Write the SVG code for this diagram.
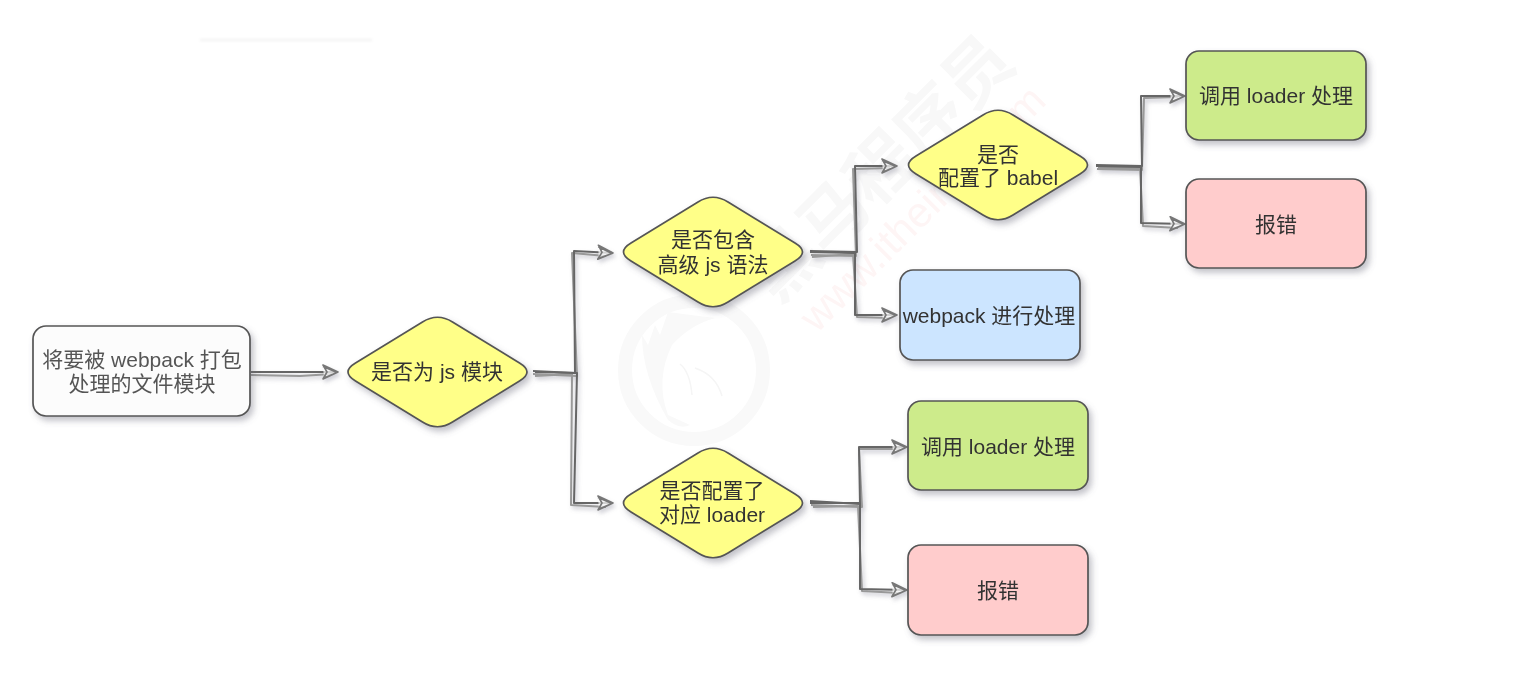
<svg xmlns="http://www.w3.org/2000/svg" width="1527" height="680" viewBox="0 0 1527 680">
<style>
.n{stroke:#555;stroke-width:1.7}
.d{fill:#ffff88}
.t{font-family:"Liberation Sans","Noto Sans CJK SC",sans-serif;font-size:21px;fill:#333;text-anchor:middle}
.a{fill:none;stroke:#666;stroke-width:2;stroke-linejoin:round;marker-end:url(#ah)}
.b{fill:none;stroke:#999;stroke-width:2;stroke-linejoin:round}
</style>
<defs>
<filter id="s" x="-20%" y="-20%" width="150%" height="150%"><feDropShadow dx="3" dy="4" stdDeviation="3" flood-color="#667" flood-opacity=".4"/></filter>
<filter id="ls" filterUnits="userSpaceOnUse" x="0" y="0" width="1527" height="680"><feDropShadow dx="2" dy="3" stdDeviation="2" flood-color="#778" flood-opacity=".35"/></filter>
<filter id="soft" filterUnits="userSpaceOnUse" x="0" y="0" width="1527" height="680"><feGaussianBlur stdDeviation=".45"/></filter>
<filter id="far" filterUnits="userSpaceOnUse" x="150" y="20" width="280" height="40"><feGaussianBlur stdDeviation="1.500"/></filter>
<marker id="ah" markerUnits="userSpaceOnUse" markerWidth="20" markerHeight="18" refX="16" refY="8" orient="auto"><path d="M1 1 L16 8 L1 15 L5 8 Z M1 2.500 L15 8.600 L2 14" fill="#fff" fill-opacity=".7" stroke="#777" stroke-width="1.6" stroke-linejoin="round"/></marker>
<path id="dia" d="M-82 -9 L-15 -50 Q0 -59.500 15 -50 L82 -9 Q97 0 82 9 L15 50 Q0 59.500 -15 50 L-82 9 Q-97 0 -82 -9 Z"/>
</defs>
<rect width="1527" height="680" fill="#fff"/>
<g filter="url(#soft)">
<line x1="200" y1="40" x2="372" y2="40" stroke="#f0f0f0" stroke-width="2" filter="url(#far)"/>
<g id="watermark">
<circle cx="694" cy="370" r="69" fill="none" stroke="#f9f9f9" stroke-width="14"/>
<path d="M668 312 L660 335 L655 325 L648 345 L642 335 Q642 375 668 420 Q680 430 690 425 L668 415 Q655 380 672 345 Q690 325 715 318 Q690 315 668 312 Z" fill="#f9f9f9"/>
<path d="M680 364 Q690 372 692 395 M722 396 Q716 375 695 368" fill="none" stroke="#f5f5f5" stroke-width="1.500"/>
<text x="881" y="168" dy=".35em" transform="rotate(-45 881 168)" font-family="'Noto Sans CJK SC',sans-serif" font-size="68" font-weight="700" fill="#f8f8f8" text-anchor="middle">黑马程序员</text>
<text x="922" y="208" dy=".35em" transform="rotate(-45 922 208)" font-family="'Liberation Sans',sans-serif" font-size="42" fill="#fef5f5" text-anchor="middle">www.itheima.com</text>
</g>
<g id="connectors" filter="url(#ls)">
<path class="b" d="M251 375 L300 376 L332 374"/><path class="a" d="M251 372 L338 372"/>
<path class="b" d="M533 374 L577 376 L572 253 L606 256"/><path class="a" d="M533 371 L575 373 L574 251 L613 253"/>
<path class="b" d="M535 376 L572 374 L571 505 L606 507"/><path class="a" d="M535 372 L577 373 L574 503 L613 503"/>
<path class="b" d="M811 255 L856 256 L853 169 L890 168"/><path class="a" d="M810 251 L857 252 L855 166 L897 166"/>
<path class="b" d="M812 257 L853 254 L857 317 L890 318"/><path class="a" d="M810 252 L855 253 L855 315 L897 315"/>
<path class="b" d="M1097 169 L1142 170 L1144 98 L1178 97"/><path class="a" d="M1096 165 L1142 166 L1141 96 L1185 96"/>
<path class="b" d="M1098 168 L1140 168 L1143 226 L1178 228"/><path class="a" d="M1096 166 L1141 167 L1141 223 L1185 224"/>
<path class="b" d="M811 505 L862 507 L859 449 L900 449"/><path class="a" d="M810 501 L860 504 L859 447 L907 447"/>
<path class="b" d="M813 507 L858 506 L862 591 L900 593"/><path class="a" d="M810 503 L860 503 L860 589 L907 590"/>
</g>
<g id="start"><rect class="n" x="33" y="326" width="217" height="90" rx="13" fill="#fcfcfc" stroke="#333" filter="url(#s)"/><text class="t" x="142" y="367" style="fill:#555">将要被 webpack 打包</text><text class="t" x="142" y="391" style="fill:#555">处理的文件模块</text></g>
<g id="d1"><use href="#dia" class="n d" x="437.500" y="372" filter="url(#s)"/><text class="t" x="437" y="379">是否为 js 模块</text></g>
<g id="d2"><use href="#dia" class="n d" x="713" y="252" filter="url(#s)"/><text class="t" x="713" y="247">是否包含</text><text class="t" x="713" y="272">高级 js 语法</text></g>
<g id="d3"><use href="#dia" class="n d" x="713" y="503" filter="url(#s)"/><text class="t" x="712" y="498">是否配置了</text><text class="t" x="712" y="522">对应 loader</text></g>
<g id="d4"><use href="#dia" class="n d" x="998" y="165" filter="url(#s)"/><text class="t" x="998" y="162">是否</text><text class="t" x="998" y="185">配置了 babel</text></g>
<g id="blue"><rect class="n" x="900" y="270" width="180" height="90" rx="13" fill="#cce5ff" filter="url(#s)"/><text class="t" x="989" y="323">webpack 进行处理</text></g>
<g id="green1"><rect class="n" x="1186" y="51" width="180" height="89" rx="13" fill="#cdeb8b" filter="url(#s)"/><text class="t" x="1276" y="103">调用 loader 处理</text></g>
<g id="red1"><rect class="n" x="1186" y="179" width="180" height="89" rx="13" fill="#ffcccc" filter="url(#s)"/><text class="t" x="1276" y="232">报错</text></g>
<g id="green2"><rect class="n" x="908" y="401" width="180" height="89" rx="13" fill="#cdeb8b" filter="url(#s)"/><text class="t" x="998" y="454">调用 loader 处理</text></g>
<g id="red2"><rect class="n" x="908" y="545" width="180" height="90" rx="13" fill="#ffcccc" filter="url(#s)"/><text class="t" x="998" y="598">报错</text></g>
</g>
</svg>
